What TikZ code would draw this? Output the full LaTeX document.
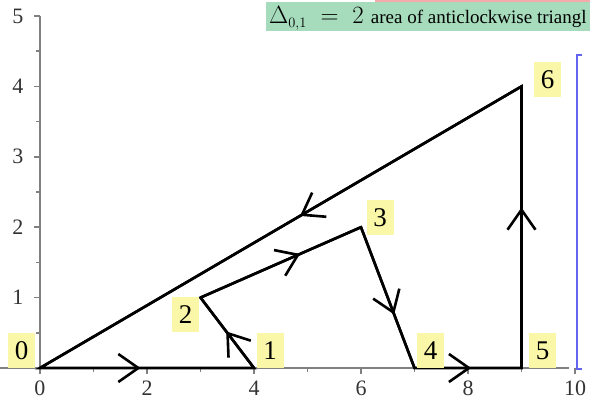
\documentclass[tikz,border=0pt]{standalone}
\usepackage{fontspec}
\setmainfont{Liberation Serif}
\usetikzlibrary{arrows.meta,decorations.markings}
\definecolor{hlyellow}{RGB}{250,247,168}
\definecolor{bannergreen}{RGB}{166,220,188}
\definecolor{bannerpink}{RGB}{244,170,170}
\definecolor{axisgray}{RGB}{128,128,128}
\definecolor{bracketblue}{RGB}{100,100,240}
\tikzset{
  pathline/.style={line width=2.6pt, black},
  midarrow/.style={postaction={decorate}, decoration={markings,
     mark=at position #1 with {\arrow{Straight Barb[length=20pt,width=28pt,line width=2.6pt]}}}},
  ptlabel/.style={fill=hlyellow, minimum width=27pt, minimum height=35pt, inner sep=0pt,
     font=\fontsize{27}{29}\selectfont},
  ticklabel/.style={font=\fontsize{22}{24}\selectfont, text=black!80, inner sep=0pt},
  axisline/.style={line width=2.2pt, axisgray},
  tickline/.style={line width=1.6pt, axisgray}
}
\begin{document}
\begin{tikzpicture}[x=53.5pt,y=70.4pt]
\useasboundingbox (-40pt,-33pt) rectangle (550pt,368pt);
% banner
\fill[bannerpink] (335pt,365pt) rectangle (550pt,368pt);
\fill[bannergreen] (226pt,337pt) rectangle (550pt,366pt);
\node[anchor=base west, inner sep=0pt, font=\fontsize{27}{29}\selectfont] (banner) at (229pt,344pt)
  {$\Delta_{\scriptscriptstyle 0,1}\;=\;2$\hspace{7pt}{\fontsize{19}{21}\selectfont area of anticlockwise triangl}};
% axes
\draw[axisline] (-40pt,0) -- (9.88,0);
\draw[axisline] (0,0) -- (0,5);
\foreach \i in {0,2,...,10} {
  \draw[tickline] (\i,0) -- ++(0,-6pt);
  \node[ticklabel] (xt\i) at (\i,-20pt) {\i};
}
\foreach \i in {1,3,...,9} \draw[tickline] (\i,0) -- ++(0,-4pt);
\foreach \i in {1,...,5} {
  \draw[tickline] (0,\i) -- ++(-6pt,0);
  \node[ticklabel] (yt\i) at (-22pt,\i) {\i};
}
\foreach \i in {0.5,1.5,...,4.5} \draw[tickline] (0,\i) -- ++(-4pt,0);
% bracket
\draw[bracketblue, line width=1.6pt] (542pt,313pt) -- (537pt,313pt) -- (537pt,-1pt) -- (542pt,-1pt);
% points
\coordinate (P0) at (0,0);
\coordinate (P1) at (4,0);
\coordinate (P2) at (3,1);
\coordinate (P3) at (6,2);
\coordinate (P4) at (7,0);
\coordinate (P5) at (9,0);
\coordinate (P6) at (9,4);
% path
\draw[pathline, midarrow=0.47] (P0) -- (P1);
\draw[pathline, midarrow=0.52] (P1) -- (P2);
\draw[pathline, midarrow=0.62] (P2) -- (P3);
\draw[pathline, midarrow=0.62] (P3) -- (P4);
\draw[pathline, midarrow=0.53] (P4) -- (P5);
\draw[pathline, midarrow=0.57] (P5) -- (P6);
\draw[pathline, midarrow=0.46] (P6) -- (P0);
\draw[pathline, line join=miter] (P0) -- (P1) -- (P2) -- (P3) -- (P4) -- (P5) -- (P6) -- cycle;
% labels
\node[ptlabel] (L0) at (-18.5pt,17.5pt) {0};
\node[ptlabel] (L1) at (230pt,17pt) {1};
\node[ptlabel] (L2) at (145.5pt,53pt) {2};
\node[ptlabel] (L3) at (340pt,150pt) {3};
\node[ptlabel] (L4) at (390.5pt,17pt) {4};
\node[ptlabel] (L5) at (502.5pt,17pt) {5};
\node[ptlabel] (L6) at (507.5pt,288pt) {6};
\end{tikzpicture}
\end{document}
